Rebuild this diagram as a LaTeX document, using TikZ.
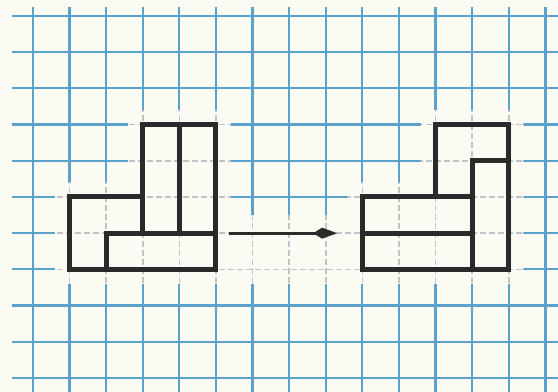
\documentclass[tikz,border=0pt]{standalone}
\usetikzlibrary{arrows.meta}
\definecolor{paper}{HTML}{FBFBF4}
\definecolor{gridblue}{HTML}{5AA2CC}
\definecolor{gridgrey}{HTML}{BFC4C8}
\definecolor{ink}{HTML}{2A2A2A}
\tikzset{
  gridline/.style={gridblue, line width=2.2pt},
  fadedline/.style={gridgrey, line width=1.5pt, dash pattern=on 6pt off 3pt},
  outline/.style={ink, line width=5pt, line join=miter, line cap=rect},
  arrowline/.style={ink, line width=3pt, -{Kite[length=24pt,width=11pt,inset=9pt]}},
}
\begin{document}
\begin{tikzpicture}[x=36.6pt,y=-36.2pt]
  % page
  \useasboundingbox (-0.9016,-0.4420) rectangle (14.3443,10.3867);
  \fill[paper] (-0.9016,-0.4420) rectangle (14.3443,10.3867);
  % blue grid
  \foreach \i in {0,...,14} \draw[gridline] (\i,-0.25) -- (\i,10.39);
  \foreach \j in {0,...,10} \draw[gridline] (-0.57,\j) -- (14.35,\j);
  % faded grid near the figures
  \fill[paper] (0.6,4.6) -- (2.6,4.6) -- (2.6,2.6) -- (5.4,2.6) -- (5.4,7.4) -- (0.6,7.4) -- cycle;
  \fill[paper] (8.6,4.6) -- (10.6,4.6) -- (10.6,2.6) -- (13.4,2.6) -- (13.4,7.4) -- (8.6,7.4) -- cycle;
  \fill[paper] (5.4,5.5) -- (8.6,5.5) -- (8.6,7.4) -- (5.4,7.4) -- cycle;
  \begin{scope}
    \clip (0.6,4.6) -- (2.6,4.6) -- (2.6,2.6) -- (5.4,2.6) -- (5.4,7.4) -- (0.6,7.4) -- cycle
          (8.6,4.6) -- (10.6,4.6) -- (10.6,2.6) -- (13.4,2.6) -- (13.4,7.4) -- (8.6,7.4) -- cycle
          (5.4,5.5) -- (8.6,5.5) -- (8.6,7.4) -- (5.4,7.4) -- cycle;
    \foreach \i in {0,...,14} \draw[fadedline] (\i,-0.25) -- (\i,10.39);
    \foreach \j in {0,...,10} \draw[fadedline] (-0.57,\j) -- (14.35,\j);
  \end{scope}
  % left figure
  \draw[outline] (1,5) -- (3,5) -- (3,3) -- (5,3) -- (5,7) -- (1,7) -- cycle;
  \draw[outline] (3,5) -- (3,6);
  \draw[outline] (4,3) -- (4,6);
  \draw[outline] (2,7) -- (2,6) -- (5,6);
  % right figure
  \draw[outline] (9,5) -- (11,5) -- (11,3) -- (13,3) -- (13,7) -- (9,7) -- cycle;
  \draw[outline] (11,5) -- (12,5);
  \draw[outline] (12,7) -- (12,4) -- (13,4);
  \draw[outline] (9,6) -- (12,6);
  % arrow
  \coordinate (arrS) at (5.35,6);
  \coordinate (arrE) at (8.31,6);
  \draw[arrowline] (arrS) -- (arrE);
\end{tikzpicture}
\end{document}
